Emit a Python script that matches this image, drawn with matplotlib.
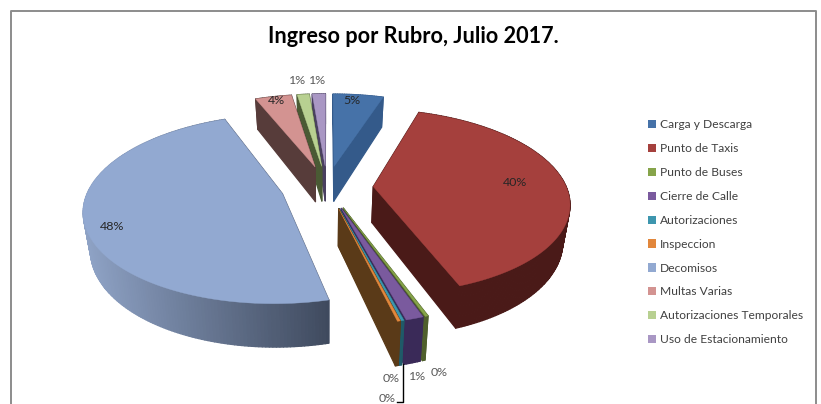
import numpy as np
import matplotlib
matplotlib.use("Agg")
import matplotlib.pyplot as plt
from matplotlib.patches import Polygon, Patch
from matplotlib.colors import to_rgb

title = "Ingreso por Rubro, Julio 2017."
categories = ["Carga y Descarga", "Punto de Taxis", "Punto de Buses", "Cierre de Calle",
              "Autorizaciones", "Inspeccion", "Decomisos", "Multas Varias",
              "Autorizaciones Temporales", "Uso de Estacionamiento"]
values = [5.0, 39.4, 0.2, 1.2, 0.2, 0.2, 47.7, 3.6, 1.2, 1.3]
labels = ["5%", "40%", "0%", "1%", "0%", "0%", "48%", "4%", "1%", "1%"]
top_colors = ["#4672A8", "#A5403D", "#86A44A", "#7A5A9E", "#3D96AE", "#E2873C",
              "#92A9D1", "#D39391", "#B8D091", "#A997C4"]
side_colors = ["#345A8A", "#4A1A18", "#4F5F2C", "#3A2A58", "#1F5A68", "#5A3A18",
               "#566178", "#573C3A", "#4A5A34", "#4A4060"]
label_pos = [(352, 100), (515, 182), (439, 372), (418, 376), (391, 378), (387, 399),
             (112, 226), (276, 101), (297, 80), (317, 80)]
label_colors = ["#262626", "#262626", "#595959", "#595959", "#595959", "#595959",
                "#262626", "#262626", "#595959", "#595959"]

CX, CY, SX, SY, K, EXPL, DEPTH, SHRINK = 327, 187, 193, 90, 0.16, 0.24, 36, 0.97


def project(a, b, low=False):
    w = 1 + K * b
    x = SX * a / w
    y = SY * b / w
    if low:
        return CX + x * SHRINK, CY - y + DEPTH / w
    return CX + x, CY - y


fig = plt.figure(figsize=(8.21, 4.04), dpi=100)
ax = fig.add_axes([0, 0, 1, 1])
ax.set_xlim(0, 821)
ax.set_ylim(404, 0)
ax.axis("off")

# chart frame (open at the bottom, cropped in the source)
ax.plot([11, 11, 816, 816], [404, 10.5, 10.5, 404], color="#8C8C8C", lw=1.4, zorder=1)

total = sum(values)
edges = np.cumsum([0] + values) / total * 2 * np.pi
wedges = []
for i, v in enumerate(values):
    t0, t1 = edges[i], edges[i + 1]
    m = (t0 + t1) / 2
    a0, b0 = EXPL * np.sin(m), EXPL * np.cos(m)
    ts = np.linspace(t0, t1, max(3, int(v * 4) + 3))
    wedges.append((i, a0, b0, a0 + np.sin(ts), b0 + np.cos(ts)))

# back wedges first
z = 2
for i, a0, b0, aa, bb in sorted(wedges, key=lambda w: -w[2]):
    side = np.array(to_rgb(side_colors[i]))
    walls = []
    for a1, b1 in ((aa[0], bb[0]), (aa[-1], bb[-1])):
        pts = [project(a0, b0), project(a1, b1), project(a1, b1, True), project(a0, b0, True)]
        walls.append(((b0 + b1) / 2, pts, side))
    for j in range(len(aa) - 1):
        pts = [project(aa[j], bb[j]), project(aa[j + 1], bb[j + 1]),
               project(aa[j + 1], bb[j + 1], True), project(aa[j], bb[j], True)]
        if i == 6:  # gradient on the large slice
            f = np.clip((pts[0][0] - 85) / 245, 0, 1)
            col = (1 - f) * np.array(to_rgb("#8FA3C6")) + f * np.array(to_rgb("#3F4A5E"))
        else:
            col = side
        walls.append(((bb[j] + bb[j + 1]) / 2 - 0.5, pts, col))
    for _, pts, col in sorted(walls, key=lambda q: -q[0]):
        ax.add_patch(Polygon(pts, closed=True, fc=col, ec=col, lw=0.9, joinstyle="round", zorder=z))
    top = [project(a0, b0)] + [project(x, y) for x, y in zip(aa, bb)]
    ax.add_patch(Polygon(top, closed=True, fc=top_colors[i], ec=top_colors[i], lw=0.3, zorder=z + 0.5))
    z += 1

ax.plot([403, 403, 397], [364, 402, 402], color="black", lw=1.0, zorder=50)

for lab, (x, y), c in zip(labels, label_pos, label_colors):
    ax.text(x, y, lab, ha="center", va="center", fontsize=8.9, family="Lato",
            color=c, zorder=60)

ax.text(413, 36.5, title, ha="center", va="center", fontsize=15.6, family="Lato",
        fontweight="bold", color="black", zorder=60)

handles = [Patch(fc=c, ec="none") for c in top_colors]
leg = ax.legend(handles, categories, loc="upper left", bbox_to_anchor=(648, 119.5),
                bbox_transform=ax.transData, frameon=False,
                prop={"family": "Lato", "size": 8.65}, labelspacing=1.07,
                handlelength=0.68, handleheight=0.68, handletextpad=0.33,
                borderpad=0, borderaxespad=0, labelcolor="#404040")
leg.set_zorder(60)

fig.savefig("out.png", dpi=100)
